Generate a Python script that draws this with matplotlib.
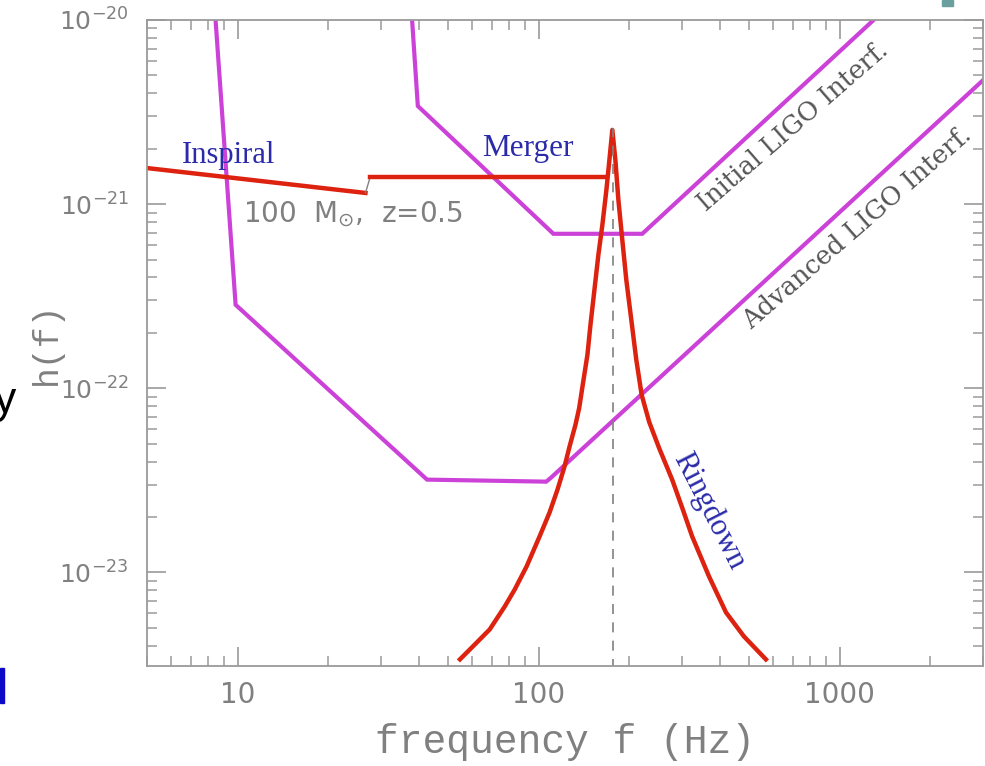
import matplotlib
matplotlib.use("Agg")
import matplotlib.pyplot as plt
from matplotlib.patches import Rectangle
from matplotlib.ticker import LogLocator, NullFormatter

# Initial LIGO noise curve (Hz, strain)
initial_f = [38.0, 39.7, 112.0, 221.0, 1297.0]
initial_h = [1e-20, 3.41e-21, 6.90e-22, 6.90e-22, 1e-20]

# Advanced LIGO noise curve
advanced_f = [8.45, 9.85, 42.6, 106.0, 110.0, 3000.0]
advanced_h = [1e-20, 2.84e-22, 3.19e-23, 3.11e-23, 3.27e-23, 4.72e-21]

# 100 Msun binary at z=0.5
inspiral_f = [5.0, 26.6]
inspiral_h = [1.57e-21, 1.15e-21]
merger_f = [27.6, 167.0]
merger_h = [1.41e-21, 1.41e-21]
ringdown_f = [54.8, 61.4, 68.8, 77.2, 83.3, 91.3, 100.8, 108.7, 115.6, 121.9, 126.7,
              132.6, 136.4, 140.5, 145.3, 148.7, 153.3, 158.0, 162.9, 168.0, 171.9, 175.8,
              179.9, 184.1, 189.7, 195.6, 203.2, 211.1, 220.0, 233.1, 251.6, 277.8,
              299.8, 323.6, 368.3, 419.4, 481.0, 568.9]
ringdown_h = [3.37e-24, 4.06e-24, 4.90e-24, 6.53e-24, 8.07e-24, 1.08e-23, 1.57e-23, 2.11e-23,
              2.82e-23, 3.75e-23, 4.82e-23, 6.34e-23, 7.80e-23, 1.07e-22, 1.52e-22, 2.21e-22,
              3.43e-22, 5.31e-22, 7.72e-22, 1.196e-21, 1.74e-21, 2.53e-21,
              1.74e-21, 1.055e-21, 6.40e-22, 3.88e-22, 2.36e-22, 1.43e-22, 9.20e-23, 6.55e-23,
              4.72e-23, 3.19e-23, 2.25e-23, 1.57e-23, 9.50e-24, 6.06e-24, 4.49e-24, 3.37e-24]
f_peak = 177.0
h_peak = 2.6e-21

x_ticks = [10, 100, 1000]
x_ticklabels = ["10", "100", "1000"]
y_ticks = [1e-23, 1e-22, 1e-21, 1e-20]
y_ticklabels = [r"$10^{-23}$", r"$10^{-22}$", r"$10^{-21}$", r"$10^{-20}$"]

GRAY = "#808080"
MAGENTA = "#cc42d8"
RED = "#dd2210"
BLUE = "#2a2aaa"

fig = plt.figure(figsize=(9.85, 7.66), dpi=100)
ax = fig.add_axes([0.1492, 0.1305, 0.849, 0.8434])

ax.plot(initial_f, initial_h, color=MAGENTA, lw=3, solid_joinstyle="miter")
ax.plot(advanced_f, advanced_h, color=MAGENTA, lw=3, solid_joinstyle="miter")
ax.plot(inspiral_f, inspiral_h, color=RED, lw=3.2)
ax.plot([inspiral_f[-1], merger_f[0]], [inspiral_h[-1], merger_h[0]], color=GRAY, lw=1)
ax.plot(merger_f, merger_h, color=RED, lw=3.2)
ax.plot(ringdown_f, ringdown_h, color=RED, lw=3.2)
ax.plot([f_peak, f_peak], [3e-24, h_peak], color=GRAY, lw=1.2, ls=(0, (6, 5)))

ax.set_xscale("log")
ax.set_yscale("log")
ax.set_xlim(5, 3000)
ax.set_ylim(3.1e-24, 1e-20)

ax.xaxis.set_minor_locator(LogLocator(base=10, subs=range(2, 10)))
ax.yaxis.set_minor_locator(LogLocator(base=10, subs=range(2, 10)))
ax.xaxis.set_minor_formatter(NullFormatter())
ax.yaxis.set_minor_formatter(NullFormatter())
ax.set_xticks(x_ticks)
ax.set_xticklabels(x_ticklabels)
ax.set_yticks(y_ticks)
ax.set_yticklabels(y_ticklabels)

for s in ax.spines.values():
    s.set_color("#9a9a9a")
    s.set_linewidth(1.3)
ax.tick_params(which="both", direction="in", top=True, right=True, colors="#9a9a9a",
               labelcolor=GRAY)
ax.tick_params(axis="x", labelsize=20)
ax.tick_params(axis="y", labelsize=18)
ax.tick_params(which="major", length=14, width=1.2)
ax.tick_params(which="minor", length=7, width=1.1)
ax.tick_params(axis="y", which="major", pad=13)
ax.tick_params(axis="x", which="major", pad=11)
for lab in ax.get_yticklabels():
    lab.set_va("center_baseline")

ax.set_xlabel("frequency f (Hz)", family="Liberation Mono", fontsize=28.5, color=GRAY)
ax.xaxis.set_label_coords(0.5, -0.088)
ax.set_ylabel("h(f)", family="Liberation Mono", fontsize=25, color=GRAY)
ax.yaxis.set_label_coords(-0.1, 0.5)

ax.text((182 - 147) / 838, 1 - (155 - 20) / 646, "Inspiral",
        transform=ax.transAxes, family="Liberation Serif", fontsize=22, color=BLUE,
        ha="left", va="center")
ax.text((483 - 147) / 838, 1 - (148 - 20) / 646, "Merger",
        transform=ax.transAxes, family="Liberation Serif", fontsize=22.5, color=BLUE,
        ha="left", va="center")
ax.text((710 - 147) / 838, 1 - (511 - 20) / 646, "Ringdown",
        transform=ax.transAxes, family="Liberation Serif", fontsize=22, color=BLUE,
        ha="center", va="center", rotation=-63)
ax.text((243 - 147) / 838, 1 - (214 - 20) / 646, r"100  M$_{\odot}$,  z=0.5",
        transform=ax.transAxes, fontsize=20, color=GRAY, ha="left", va="center")
ax.text((794 - 147) / 838, 1 - (127 - 20) / 646, "Initial LIGO Interf.",
        transform=ax.transAxes, family="DejaVu Serif", fontsize=18.5, color="#555555",
        ha="center", va="center", rotation=41)
ax.text((859 - 147) / 838, 1 - (228 - 20) / 646, "Advanced LIGO Interf.",
        transform=ax.transAxes, family="DejaVu Serif", fontsize=18.5, color="#555555",
        ha="center", va="center", rotation=41)

# slide fragments around the cropped figure
fig.text(16 / 985, 1 - 413 / 766, "y", family="Liberation Sans", fontsize=32,
         color="black", ha="right", va="baseline")
fig.patches.append(Rectangle((0, 1 - 703 / 766), 4 / 985, 35 / 766,
                             transform=fig.transFigure, color="#0a0ac8"))
fig.patches.append(Rectangle((942 / 985, 1 - 6 / 766), 11 / 985, 6 / 766,
                             transform=fig.transFigure, color="#6a9fa0"))

fig.savefig("out.png", dpi=100)
